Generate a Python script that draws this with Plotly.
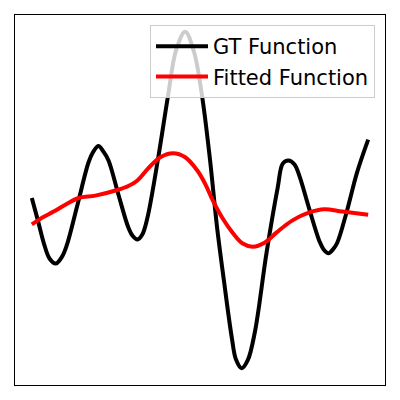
import plotly.graph_objects as go

# GT function samples
gt_x = [0.00, 0.18, 0.36, 0.53, 0.71, 0.89, 1.04, 1.36, 1.69, 1.83, 1.98, 2.13, 2.28, 2.57,
        2.87, 2.99, 3.14, 3.28, 3.43, 3.76, 4.05, 4.29, 4.56, 4.82, 5.06, 5.30, 5.50, 5.71,
        5.95, 6.07, 6.24, 6.42, 6.63, 6.98, 7.31, 7.46, 7.63, 7.81, 7.96, 8.25, 8.55, 8.67,
        8.82, 8.96, 9.08, 9.35, 9.67, 10.00]
gt_y = [0.03, -0.25, -0.54, -0.73, -0.79, -0.71, -0.56, -0.05, 0.48, 0.61, 0.68, 0.61, 0.50, 0.08,
        -0.34, -0.44, -0.49, -0.43, -0.23, 0.54, 1.31, 1.88, 2.11, 1.86, 1.31, 0.50, -0.31, -1.00,
        -1.73, -1.99, -2.10, -2.00, -1.65, -0.65, 0.16, 0.46, 0.50, 0.45, 0.30, -0.11, -0.51, -0.61,
        -0.66, -0.61, -0.53, -0.16, 0.35, 0.76]

# fitted function samples
fit_x = [0.00, 0.33, 0.65, 1.01, 1.39, 1.89, 2.54, 2.87, 3.14, 3.46, 3.82, 4.20, 4.56, 4.91,
         5.15, 5.38, 5.68, 5.98, 6.27, 6.57, 6.92, 7.28, 7.75, 8.25, 8.70, 9.23, 10.00]
fit_y = [-0.30, -0.21, -0.14, -0.05, 0.03, 0.06, 0.13, 0.18, 0.25, 0.40, 0.54, 0.59, 0.54, 0.38,
         0.21, 0.00, -0.23, -0.41, -0.54, -0.58, -0.53, -0.40, -0.25, -0.15, -0.11, -0.14, -0.18]

fig = go.Figure()
fig.add_trace(go.Scatter(x=gt_x, y=gt_y, mode="lines", name="GT Function",
                         line=dict(color="black", width=4, shape="spline")))
fig.add_trace(go.Scatter(x=fit_x, y=fit_y, mode="lines", name="Fitted Function",
                         line=dict(color="red", width=4, shape="spline")))

axis = dict(showgrid=False, zeroline=False, showticklabels=False, ticks="",
            showline=True, linecolor="black", linewidth=1, mirror=True)
fig.update_xaxes(range=[-0.5, 10.5], **axis)
fig.update_yaxes(range=[-2.31, 2.32], **axis)

# page body adds 8px, so the figure is 384 wide
fig.update_layout(
    width=384, height=384,
    margin=dict(l=7, r=7, t=7, b=7),
    plot_bgcolor="white", paper_bgcolor="white",
    font=dict(family="DejaVu Sans", size=21, color="black"),
    legend=dict(x=0.973, y=0.973, xanchor="right", yanchor="top",
                bgcolor="rgba(255,255,255,0.8)", bordercolor="#cccccc", borderwidth=1,
                itemwidth=52, font=dict(size=21)),
)

fig.write_html("out.html")
